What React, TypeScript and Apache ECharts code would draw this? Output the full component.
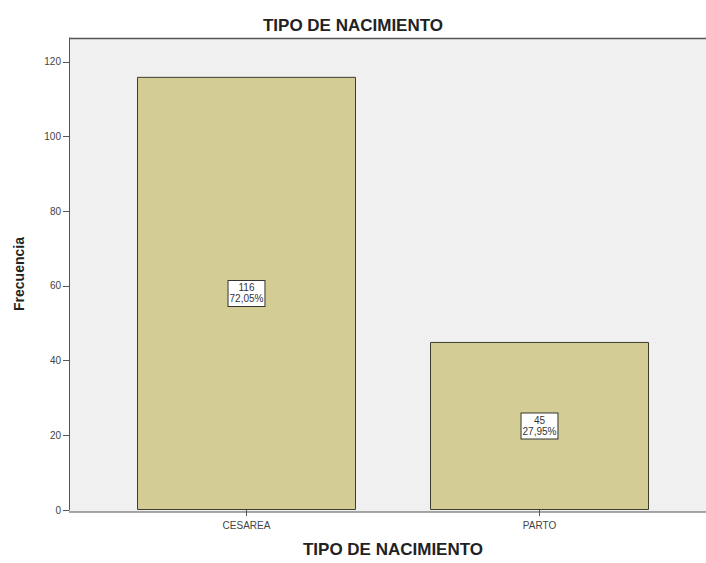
import React, { useEffect, useRef } from "react";
import * as echarts from "echarts";

const categories = ["CESAREA", "PARTO"];
const counts = [116, 45];
const percents = ["72,05%", "27,95%"];
const yTicks = [0, 20, 40, 60, 80, 100, 120];

export default function App() {
  const ref = useRef<HTMLDivElement>(null);
  useEffect(() => {
    const chart = echarts.init(ref.current!, null, { renderer: "svg" });
    chart.setOption({
      animation: false,
      backgroundColor: "#ffffff",
      title: {
        text: "TIPO DE NACIMIENTO",
        left: "center",
        top: 12,
        textStyle: { fontFamily: "Liberation Sans", fontSize: 17, fontWeight: "bold", color: "#222" },
      },
      graphic: [
        {
          type: "rect",
          z: -10,
          shape: { x: 69, y: 38, width: 660, height: 474 },
          style: { fill: "#f0f0f0" },
        },
        {
          type: "line",
          z: -9,
          shape: { x1: 69, y1: 38.5, x2: 730, y2: 38.5 },
          style: { stroke: "#555", lineWidth: 1.5 },
        },
        {
          type: "line",
          z: -9,
          shape: { x1: 69, y1: 512, x2: 730, y2: 512 },
          style: { stroke: "#555", lineWidth: 1 },
        },
      ],
      grid: { left: 100, right: 20, top: 38, bottom: 51 },
      xAxis: {
        type: "category",
        data: categories,
        name: "TIPO DE NACIMIENTO",
        nameLocation: "middle",
        nameGap: 31,
        nameTextStyle: { fontFamily: "Liberation Sans", fontSize: 17, fontWeight: "bold", color: "#222" },
        axisLine: { show: false },
        axisTick: { show: true, alignWithLabel: true, length: 6, lineStyle: { color: "#555" } },
        axisLabel: { fontFamily: "Liberation Sans", fontSize: 10, color: "#444", margin: 10 },
      },
      yAxis: {
        type: "value",
        min: 0,
        max: 126.4,
        interval: 20,
        offset: 31,
        name: "Frecuencia",
        nameLocation: "middle",
        nameGap: 43,
        nameRotate: 90,
        nameTextStyle: { fontFamily: "Liberation Sans", fontSize: 14, fontWeight: "bold", color: "#222" },
        axisLine: { show: true, lineStyle: { color: "#555", width: 1 } },
        axisTick: { show: true, length: 6, lineStyle: { color: "#555" } },
        axisLabel: {
          fontFamily: "Liberation Sans",
          fontSize: 10,
          color: "#444",
          margin: 8,
          showMaxLabel: false,
          formatter: (v: number) => (yTicks.includes(v) ? String(v) : ""),
        },
        splitLine: { show: false },
      },
      series: [
        {
          type: "bar",
          data: counts,
          barWidth: 219,
          itemStyle: { color: "#d3cd95", borderColor: "#3d3d30", borderWidth: 1 },
          label: {
            show: true,
            position: "inside",
            formatter: (p: any) => `${p.value}\n${percents[p.dataIndex]}`,
            fontFamily: "Liberation Sans",
            fontSize: 10,
            lineHeight: 11,
            color: "#333",
            backgroundColor: "#ffffff",
            borderColor: "#333",
            borderWidth: 1,
            padding: [2, 1, 1, 1],
          },
        },
      ],
    });
    return () => chart.dispose();
  }, []);
  return <div ref={ref} style={{ position: "absolute", left: 0, top: 0, width: 706, height: 563 }} />;
}
